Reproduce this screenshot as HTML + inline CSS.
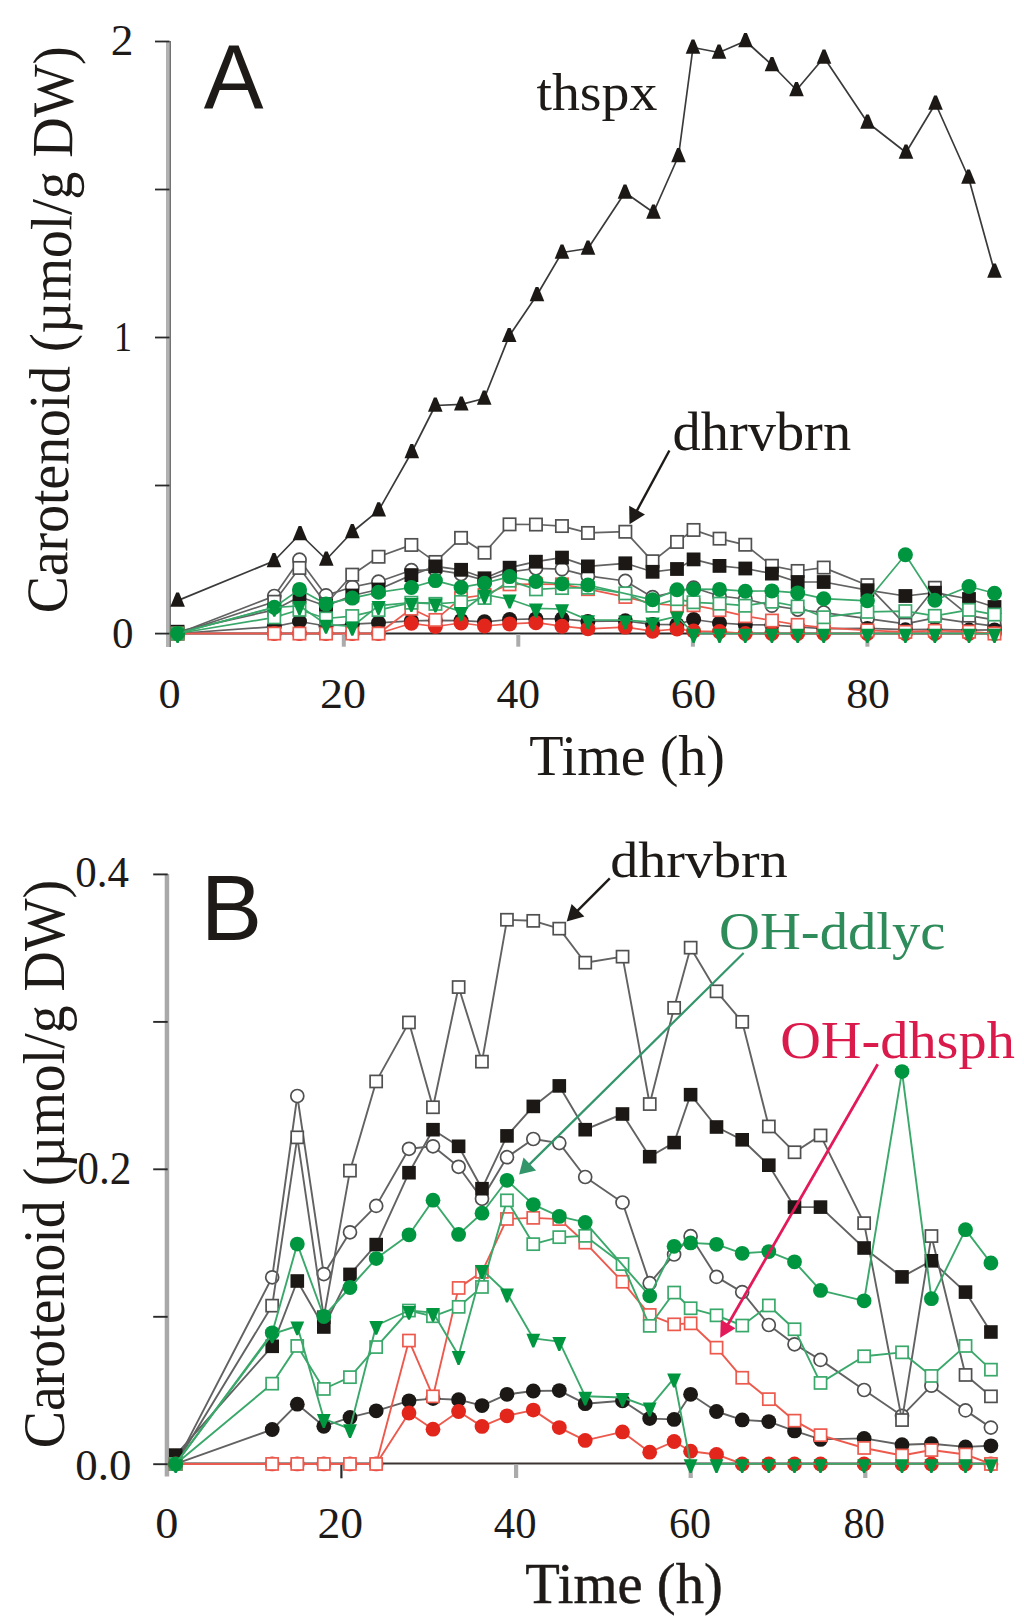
<!DOCTYPE html>
<html><head><meta charset="utf-8"><title>Carotenoid time course</title>
<style>
html,body{margin:0;padding:0;background:#fff;}
body{width:1024px;height:1622px;overflow:hidden;}
svg{display:block;}
</style></head>
<body>
<svg width="1024" height="1622" viewBox="0 0 1024 1622">
<rect width="1024" height="1622" fill="#fff"/>
<line x1="169" y1="633.5" x2="996" y2="633.5" stroke="#2a2a2a" stroke-width="1.8"/>
<rect x="166" y="41" width="4" height="606" fill="#b2b2b2"/>
<rect x="169.6" y="41" width="1.4" height="606" fill="#727272"/>
<line x1="155" y1="41.5" x2="169.5" y2="41.5" stroke="#2a2a2a" stroke-width="1.8"/>
<line x1="155" y1="189.5" x2="169.5" y2="189.5" stroke="#2a2a2a" stroke-width="1.8"/>
<line x1="155" y1="337.5" x2="169.5" y2="337.5" stroke="#2a2a2a" stroke-width="1.8"/>
<line x1="155" y1="485.5" x2="169.5" y2="485.5" stroke="#2a2a2a" stroke-width="1.8"/>
<line x1="155" y1="633.6" x2="169.5" y2="633.6" stroke="#2a2a2a" stroke-width="1.8"/>
<rect x="341.8" y="634" width="4" height="12.7" fill="#ababab"/>
<rect x="516.3" y="634" width="4" height="12.7" fill="#ababab"/>
<rect x="690.9" y="634" width="4" height="12.7" fill="#ababab"/>
<rect x="865.4" y="634" width="4" height="12.7" fill="#ababab"/>
<text transform="translate(110.63,54.80) scale(1.0333,0.9862)" x="0" y="0" style="font-family:'Liberation Serif',serif;font-size:44px;" fill="#1e1a18">2</text>
<text transform="translate(113.92,351.10) scale(0.8188,0.9448)" x="0" y="0" style="font-family:'Liberation Serif',serif;font-size:44px;" fill="#1e1a18">1</text>
<text transform="translate(111.94,647.80) scale(0.9789,0.9862)" x="0" y="0" style="font-family:'Liberation Serif',serif;font-size:44px;" fill="#1e1a18">0</text>
<text transform="translate(158.39,708.20) scale(1.0053,0.9552)" x="0" y="0" style="font-family:'Liberation Serif',serif;font-size:44px;" fill="#1e1a18">0</text>
<text transform="translate(319.91,708.20) scale(1.0463,0.9552)" x="0" y="0" style="font-family:'Liberation Serif',serif;font-size:44px;" fill="#1e1a18">20</text>
<text transform="translate(496.51,708.20) scale(0.9929,0.9552)" x="0" y="0" style="font-family:'Liberation Serif',serif;font-size:44px;" fill="#1e1a18">40</text>
<text transform="translate(670.84,708.20) scale(1.0293,0.9552)" x="0" y="0" style="font-family:'Liberation Serif',serif;font-size:44px;" fill="#1e1a18">60</text>
<text transform="translate(846.21,708.20) scale(0.9951,0.9552)" x="0" y="0" style="font-family:'Liberation Serif',serif;font-size:44px;" fill="#1e1a18">80</text>
<text transform="translate(529.28,774.87) scale(1.0196,1.0300)" x="0" y="0" style="font-family:'Liberation Serif',serif;font-size:55px;" fill="#1e1a18">Time (h)</text>
<text transform="translate(66.50,613.49) rotate(-89.300) scale(0.9943,1.0400)" x="0" y="0" style="font-family:'Liberation Serif',serif;font-size:56px" fill="#1e1a18">Carotenoid (µmol/g DW)</text>
<text transform="translate(203.70,108.40) scale(1.0190,1.0410)" x="0" y="0" style="font-family:'Liberation Sans',sans-serif;font-size:88px;" fill="#1e1a18">A</text>
<text transform="translate(536.40,109.59) scale(1.0151,0.9510)" x="0" y="0" style="font-family:'Liberation Serif',serif;font-size:55px;" fill="#1e1a18">thspx</text>
<text transform="translate(672.55,450.42) scale(1.0256,0.9825)" x="0" y="0" style="font-family:'Liberation Serif',serif;font-size:55px;" fill="#1e1a18">dhrvbrn</text>
<path d="M177.6,633.5 L274.3,596.1 L299.5,559.7 L326.0,595.4 L352.3,587.0 L378.5,581.7 L411.4,570.3 L435.4,569.8 L461.1,573.9 L484.5,580.3 L509.6,572.0 L535.9,568.3 L562.0,569.1 L587.9,575.9 L625.3,581.0 L652.6,597.2 L677.0,591.5 L693.6,587.8 L719.5,596.0 L745.3,599.0 L771.9,605.6 L797.7,609.5 L823.7,612.6 L867.4,618.7 L905.4,623.9 L934.9,617.8 L969.0,622.8 L994.5,626.2" fill="none" stroke="#626262" stroke-width="1.7" stroke-linejoin="round"/>
<circle cx="177.6" cy="633.5" r="6.6" fill="#fff" stroke="#505050" stroke-width="1.7"/>
<circle cx="274.3" cy="596.1" r="6.6" fill="#fff" stroke="#505050" stroke-width="1.7"/>
<circle cx="299.5" cy="559.7" r="6.6" fill="#fff" stroke="#505050" stroke-width="1.7"/>
<circle cx="326.0" cy="595.4" r="6.6" fill="#fff" stroke="#505050" stroke-width="1.7"/>
<circle cx="352.3" cy="587.0" r="6.6" fill="#fff" stroke="#505050" stroke-width="1.7"/>
<circle cx="378.5" cy="581.7" r="6.6" fill="#fff" stroke="#505050" stroke-width="1.7"/>
<circle cx="411.4" cy="570.3" r="6.6" fill="#fff" stroke="#505050" stroke-width="1.7"/>
<circle cx="435.4" cy="569.8" r="6.6" fill="#fff" stroke="#505050" stroke-width="1.7"/>
<circle cx="461.1" cy="573.9" r="6.6" fill="#fff" stroke="#505050" stroke-width="1.7"/>
<circle cx="484.5" cy="580.3" r="6.6" fill="#fff" stroke="#505050" stroke-width="1.7"/>
<circle cx="509.6" cy="572.0" r="6.6" fill="#fff" stroke="#505050" stroke-width="1.7"/>
<circle cx="535.9" cy="568.3" r="6.6" fill="#fff" stroke="#505050" stroke-width="1.7"/>
<circle cx="562.0" cy="569.1" r="6.6" fill="#fff" stroke="#505050" stroke-width="1.7"/>
<circle cx="587.9" cy="575.9" r="6.6" fill="#fff" stroke="#505050" stroke-width="1.7"/>
<circle cx="625.3" cy="581.0" r="6.6" fill="#fff" stroke="#505050" stroke-width="1.7"/>
<circle cx="652.6" cy="597.2" r="6.6" fill="#fff" stroke="#505050" stroke-width="1.7"/>
<circle cx="677.0" cy="591.5" r="6.6" fill="#fff" stroke="#505050" stroke-width="1.7"/>
<circle cx="693.6" cy="587.8" r="6.6" fill="#fff" stroke="#505050" stroke-width="1.7"/>
<circle cx="719.5" cy="596.0" r="6.6" fill="#fff" stroke="#505050" stroke-width="1.7"/>
<circle cx="745.3" cy="599.0" r="6.6" fill="#fff" stroke="#505050" stroke-width="1.7"/>
<circle cx="771.9" cy="605.6" r="6.6" fill="#fff" stroke="#505050" stroke-width="1.7"/>
<circle cx="797.7" cy="609.5" r="6.6" fill="#fff" stroke="#505050" stroke-width="1.7"/>
<circle cx="823.7" cy="612.6" r="6.6" fill="#fff" stroke="#505050" stroke-width="1.7"/>
<circle cx="867.4" cy="618.7" r="6.6" fill="#fff" stroke="#505050" stroke-width="1.7"/>
<circle cx="905.4" cy="623.9" r="6.6" fill="#fff" stroke="#505050" stroke-width="1.7"/>
<circle cx="934.9" cy="617.8" r="6.6" fill="#fff" stroke="#505050" stroke-width="1.7"/>
<circle cx="969.0" cy="622.8" r="6.6" fill="#fff" stroke="#505050" stroke-width="1.7"/>
<circle cx="994.5" cy="626.2" r="6.6" fill="#fff" stroke="#505050" stroke-width="1.7"/>
<path d="M177.6,633.5 L274.3,601.7 L299.5,568.0 L326.0,604.0 L352.3,574.7 L378.5,556.7 L411.4,544.9 L435.4,561.9 L461.1,537.8 L484.5,552.8 L509.6,524.3 L535.9,524.5 L562.0,526.1 L587.9,532.9 L625.3,531.7 L652.6,561.3 L677.0,542.0 L693.6,529.9 L719.5,538.7 L745.3,544.8 L771.9,565.8 L797.7,571.0 L823.7,567.6 L867.4,585.2 L905.4,624.7 L934.9,587.8 L969.0,615.7 L994.5,619.9" fill="none" stroke="#626262" stroke-width="1.7" stroke-linejoin="round"/>
<rect x="171.4" y="627.4" width="12.3" height="12.3" fill="#fff" stroke="#505050" stroke-width="1.7"/>
<rect x="268.1" y="595.6" width="12.3" height="12.3" fill="#fff" stroke="#505050" stroke-width="1.7"/>
<rect x="293.3" y="561.8" width="12.3" height="12.3" fill="#fff" stroke="#505050" stroke-width="1.7"/>
<rect x="319.9" y="597.9" width="12.3" height="12.3" fill="#fff" stroke="#505050" stroke-width="1.7"/>
<rect x="346.1" y="568.5" width="12.3" height="12.3" fill="#fff" stroke="#505050" stroke-width="1.7"/>
<rect x="372.4" y="550.6" width="12.3" height="12.3" fill="#fff" stroke="#505050" stroke-width="1.7"/>
<rect x="405.2" y="538.8" width="12.3" height="12.3" fill="#fff" stroke="#505050" stroke-width="1.7"/>
<rect x="429.3" y="555.8" width="12.3" height="12.3" fill="#fff" stroke="#505050" stroke-width="1.7"/>
<rect x="454.9" y="531.7" width="12.3" height="12.3" fill="#fff" stroke="#505050" stroke-width="1.7"/>
<rect x="478.4" y="546.6" width="12.3" height="12.3" fill="#fff" stroke="#505050" stroke-width="1.7"/>
<rect x="503.4" y="518.2" width="12.3" height="12.3" fill="#fff" stroke="#505050" stroke-width="1.7"/>
<rect x="529.8" y="518.4" width="12.3" height="12.3" fill="#fff" stroke="#505050" stroke-width="1.7"/>
<rect x="555.8" y="519.9" width="12.3" height="12.3" fill="#fff" stroke="#505050" stroke-width="1.7"/>
<rect x="581.8" y="526.8" width="12.3" height="12.3" fill="#fff" stroke="#505050" stroke-width="1.7"/>
<rect x="619.2" y="525.6" width="12.3" height="12.3" fill="#fff" stroke="#505050" stroke-width="1.7"/>
<rect x="646.4" y="555.1" width="12.3" height="12.3" fill="#fff" stroke="#505050" stroke-width="1.7"/>
<rect x="670.9" y="535.8" width="12.3" height="12.3" fill="#fff" stroke="#505050" stroke-width="1.7"/>
<rect x="687.4" y="523.8" width="12.3" height="12.3" fill="#fff" stroke="#505050" stroke-width="1.7"/>
<rect x="713.4" y="532.5" width="12.3" height="12.3" fill="#fff" stroke="#505050" stroke-width="1.7"/>
<rect x="739.1" y="538.6" width="12.3" height="12.3" fill="#fff" stroke="#505050" stroke-width="1.7"/>
<rect x="765.8" y="559.6" width="12.3" height="12.3" fill="#fff" stroke="#505050" stroke-width="1.7"/>
<rect x="791.5" y="564.8" width="12.3" height="12.3" fill="#fff" stroke="#505050" stroke-width="1.7"/>
<rect x="817.6" y="561.4" width="12.3" height="12.3" fill="#fff" stroke="#505050" stroke-width="1.7"/>
<rect x="861.3" y="579.0" width="12.3" height="12.3" fill="#fff" stroke="#505050" stroke-width="1.7"/>
<rect x="899.2" y="618.6" width="12.3" height="12.3" fill="#fff" stroke="#505050" stroke-width="1.7"/>
<rect x="928.7" y="581.6" width="12.3" height="12.3" fill="#fff" stroke="#505050" stroke-width="1.7"/>
<rect x="962.9" y="609.5" width="12.3" height="12.3" fill="#fff" stroke="#505050" stroke-width="1.7"/>
<rect x="988.3" y="613.8" width="12.3" height="12.3" fill="#fff" stroke="#505050" stroke-width="1.7"/>
<path d="M177.6,631.7 L274.3,609.9 L299.5,596.8 L326.0,606.0 L352.3,595.5 L378.5,589.5 L411.4,575.1 L435.4,566.4 L461.1,569.8 L484.5,578.3 L509.6,567.7 L535.9,561.7 L562.0,557.6 L587.9,566.4 L625.3,563.3 L652.6,571.8 L677.0,569.0 L693.6,559.4 L719.5,565.9 L745.3,568.5 L771.9,573.6 L797.7,582.0 L823.7,582.0 L867.4,590.2 L905.4,596.0 L934.9,592.7 L969.0,599.0 L994.5,607.0" fill="none" stroke="#626262" stroke-width="1.7" stroke-linejoin="round"/>
<rect x="170.7" y="624.8" width="13.8" height="13.8" fill="#1c1816"/>
<rect x="267.4" y="603.0" width="13.8" height="13.8" fill="#1c1816"/>
<rect x="292.6" y="589.9" width="13.8" height="13.8" fill="#1c1816"/>
<rect x="319.1" y="599.1" width="13.8" height="13.8" fill="#1c1816"/>
<rect x="345.4" y="588.6" width="13.8" height="13.8" fill="#1c1816"/>
<rect x="371.6" y="582.6" width="13.8" height="13.8" fill="#1c1816"/>
<rect x="404.5" y="568.2" width="13.8" height="13.8" fill="#1c1816"/>
<rect x="428.5" y="559.5" width="13.8" height="13.8" fill="#1c1816"/>
<rect x="454.2" y="562.9" width="13.8" height="13.8" fill="#1c1816"/>
<rect x="477.6" y="571.4" width="13.8" height="13.8" fill="#1c1816"/>
<rect x="502.7" y="560.8" width="13.8" height="13.8" fill="#1c1816"/>
<rect x="529.0" y="554.8" width="13.8" height="13.8" fill="#1c1816"/>
<rect x="555.1" y="550.7" width="13.8" height="13.8" fill="#1c1816"/>
<rect x="581.0" y="559.5" width="13.8" height="13.8" fill="#1c1816"/>
<rect x="618.4" y="556.4" width="13.8" height="13.8" fill="#1c1816"/>
<rect x="645.7" y="564.9" width="13.8" height="13.8" fill="#1c1816"/>
<rect x="670.1" y="562.1" width="13.8" height="13.8" fill="#1c1816"/>
<rect x="686.7" y="552.5" width="13.8" height="13.8" fill="#1c1816"/>
<rect x="712.6" y="559.0" width="13.8" height="13.8" fill="#1c1816"/>
<rect x="738.4" y="561.6" width="13.8" height="13.8" fill="#1c1816"/>
<rect x="765.0" y="566.7" width="13.8" height="13.8" fill="#1c1816"/>
<rect x="790.8" y="575.1" width="13.8" height="13.8" fill="#1c1816"/>
<rect x="816.8" y="575.1" width="13.8" height="13.8" fill="#1c1816"/>
<rect x="860.5" y="583.3" width="13.8" height="13.8" fill="#1c1816"/>
<rect x="898.5" y="589.1" width="13.8" height="13.8" fill="#1c1816"/>
<rect x="928.0" y="585.8" width="13.8" height="13.8" fill="#1c1816"/>
<rect x="962.1" y="592.1" width="13.8" height="13.8" fill="#1c1816"/>
<rect x="987.6" y="600.1" width="13.8" height="13.8" fill="#1c1816"/>
<path d="M177.6,633.5 L274.3,626.6 L299.5,621.5 L326.0,626.0 L352.3,624.2 L378.5,622.8 L411.4,620.8 L435.4,620.4 L461.1,620.6 L484.5,621.8 L509.6,619.5 L535.9,618.9 L562.0,618.8 L587.9,621.4 L625.3,620.8 L652.6,624.4 L677.0,624.6 L693.6,619.5 L719.5,623.0 L745.3,624.7 L771.9,625.0 L797.7,626.9 L823.7,628.6 L867.4,628.4 L905.4,629.7 L934.9,629.4 L969.0,630.1 L994.5,629.9" fill="none" stroke="#626262" stroke-width="1.7" stroke-linejoin="round"/>
<circle cx="177.6" cy="633.5" r="7.5" fill="#1c1816"/>
<circle cx="274.3" cy="626.6" r="7.5" fill="#1c1816"/>
<circle cx="299.5" cy="621.5" r="7.5" fill="#1c1816"/>
<circle cx="326.0" cy="626.0" r="7.5" fill="#1c1816"/>
<circle cx="352.3" cy="624.2" r="7.5" fill="#1c1816"/>
<circle cx="378.5" cy="622.8" r="7.5" fill="#1c1816"/>
<circle cx="411.4" cy="620.8" r="7.5" fill="#1c1816"/>
<circle cx="435.4" cy="620.4" r="7.5" fill="#1c1816"/>
<circle cx="461.1" cy="620.6" r="7.5" fill="#1c1816"/>
<circle cx="484.5" cy="621.8" r="7.5" fill="#1c1816"/>
<circle cx="509.6" cy="619.5" r="7.5" fill="#1c1816"/>
<circle cx="535.9" cy="618.9" r="7.5" fill="#1c1816"/>
<circle cx="562.0" cy="618.8" r="7.5" fill="#1c1816"/>
<circle cx="587.9" cy="621.4" r="7.5" fill="#1c1816"/>
<circle cx="625.3" cy="620.8" r="7.5" fill="#1c1816"/>
<circle cx="652.6" cy="624.4" r="7.5" fill="#1c1816"/>
<circle cx="677.0" cy="624.6" r="7.5" fill="#1c1816"/>
<circle cx="693.6" cy="619.5" r="7.5" fill="#1c1816"/>
<circle cx="719.5" cy="623.0" r="7.5" fill="#1c1816"/>
<circle cx="745.3" cy="624.7" r="7.5" fill="#1c1816"/>
<circle cx="771.9" cy="625.0" r="7.5" fill="#1c1816"/>
<circle cx="797.7" cy="626.9" r="7.5" fill="#1c1816"/>
<circle cx="823.7" cy="628.6" r="7.5" fill="#1c1816"/>
<circle cx="867.4" cy="628.4" r="7.5" fill="#1c1816"/>
<circle cx="905.4" cy="629.7" r="7.5" fill="#1c1816"/>
<circle cx="934.9" cy="629.4" r="7.5" fill="#1c1816"/>
<circle cx="969.0" cy="630.1" r="7.5" fill="#1c1816"/>
<circle cx="994.5" cy="629.9" r="7.5" fill="#1c1816"/>
<path d="M177.6,633.5 L274.3,633.5 L299.5,633.5 L326.0,633.5 L352.3,633.5 L378.5,633.5 L411.4,623.3 L435.4,626.5 L461.1,623.0 L484.5,626.0 L509.6,623.9 L535.9,622.7 L562.0,626.2 L587.9,628.8 L625.3,627.1 L652.6,631.2 L677.0,629.0 L693.6,631.0 L719.5,631.6 L745.3,633.5 L771.9,633.5 L797.7,633.5 L823.7,633.5 L867.4,633.5 L905.4,633.5 L934.9,633.5 L969.0,633.5 L994.5,633.5" fill="none" stroke="#ec5a4e" stroke-width="1.7" stroke-linejoin="round"/>
<circle cx="177.6" cy="633.5" r="7.5" fill="#e2261c"/>
<circle cx="274.3" cy="633.5" r="7.5" fill="#e2261c"/>
<circle cx="299.5" cy="633.5" r="7.5" fill="#e2261c"/>
<circle cx="326.0" cy="633.5" r="7.5" fill="#e2261c"/>
<circle cx="352.3" cy="633.5" r="7.5" fill="#e2261c"/>
<circle cx="378.5" cy="633.5" r="7.5" fill="#e2261c"/>
<circle cx="411.4" cy="623.3" r="7.5" fill="#e2261c"/>
<circle cx="435.4" cy="626.5" r="7.5" fill="#e2261c"/>
<circle cx="461.1" cy="623.0" r="7.5" fill="#e2261c"/>
<circle cx="484.5" cy="626.0" r="7.5" fill="#e2261c"/>
<circle cx="509.6" cy="623.9" r="7.5" fill="#e2261c"/>
<circle cx="535.9" cy="622.7" r="7.5" fill="#e2261c"/>
<circle cx="562.0" cy="626.2" r="7.5" fill="#e2261c"/>
<circle cx="587.9" cy="628.8" r="7.5" fill="#e2261c"/>
<circle cx="625.3" cy="627.1" r="7.5" fill="#e2261c"/>
<circle cx="652.6" cy="631.2" r="7.5" fill="#e2261c"/>
<circle cx="677.0" cy="629.0" r="7.5" fill="#e2261c"/>
<circle cx="693.6" cy="631.0" r="7.5" fill="#e2261c"/>
<circle cx="719.5" cy="631.6" r="7.5" fill="#e2261c"/>
<circle cx="745.3" cy="633.5" r="7.5" fill="#e2261c"/>
<circle cx="771.9" cy="633.5" r="7.5" fill="#e2261c"/>
<circle cx="797.7" cy="633.5" r="7.5" fill="#e2261c"/>
<circle cx="823.7" cy="633.5" r="7.5" fill="#e2261c"/>
<circle cx="867.4" cy="633.5" r="7.5" fill="#e2261c"/>
<circle cx="905.4" cy="633.5" r="7.5" fill="#e2261c"/>
<circle cx="934.9" cy="633.5" r="7.5" fill="#e2261c"/>
<circle cx="969.0" cy="633.5" r="7.5" fill="#e2261c"/>
<circle cx="994.5" cy="633.5" r="7.5" fill="#e2261c"/>
<path d="M177.6,633.5 L274.3,633.5 L299.5,633.5 L326.0,633.5 L352.3,633.5 L378.5,633.5 L411.4,608.8 L435.4,619.9 L461.1,598.2 L484.5,595.0 L509.6,584.3 L535.9,584.1 L562.0,584.4 L587.9,589.1 L625.3,596.9 L652.6,603.6 L677.0,605.5 L693.6,605.3 L719.5,610.2 L745.3,616.2 L771.9,620.5 L797.7,624.8 L823.7,627.7 L867.4,630.3 L905.4,631.8 L934.9,630.7 L969.0,631.6 L994.5,633.5" fill="none" stroke="#ec5a4e" stroke-width="1.7" stroke-linejoin="round"/>
<rect x="171.4" y="627.4" width="12.3" height="12.3" fill="#fff" stroke="#ec5a4e" stroke-width="1.7"/>
<rect x="268.1" y="627.4" width="12.3" height="12.3" fill="#fff" stroke="#ec5a4e" stroke-width="1.7"/>
<rect x="293.3" y="627.4" width="12.3" height="12.3" fill="#fff" stroke="#ec5a4e" stroke-width="1.7"/>
<rect x="319.9" y="627.4" width="12.3" height="12.3" fill="#fff" stroke="#ec5a4e" stroke-width="1.7"/>
<rect x="346.1" y="627.4" width="12.3" height="12.3" fill="#fff" stroke="#ec5a4e" stroke-width="1.7"/>
<rect x="372.4" y="627.4" width="12.3" height="12.3" fill="#fff" stroke="#ec5a4e" stroke-width="1.7"/>
<rect x="405.2" y="602.6" width="12.3" height="12.3" fill="#fff" stroke="#ec5a4e" stroke-width="1.7"/>
<rect x="429.3" y="613.8" width="12.3" height="12.3" fill="#fff" stroke="#ec5a4e" stroke-width="1.7"/>
<rect x="454.9" y="592.0" width="12.3" height="12.3" fill="#fff" stroke="#ec5a4e" stroke-width="1.7"/>
<rect x="478.4" y="588.8" width="12.3" height="12.3" fill="#fff" stroke="#ec5a4e" stroke-width="1.7"/>
<rect x="503.4" y="578.2" width="12.3" height="12.3" fill="#fff" stroke="#ec5a4e" stroke-width="1.7"/>
<rect x="529.8" y="578.0" width="12.3" height="12.3" fill="#fff" stroke="#ec5a4e" stroke-width="1.7"/>
<rect x="555.8" y="578.2" width="12.3" height="12.3" fill="#fff" stroke="#ec5a4e" stroke-width="1.7"/>
<rect x="581.8" y="583.0" width="12.3" height="12.3" fill="#fff" stroke="#ec5a4e" stroke-width="1.7"/>
<rect x="619.2" y="590.8" width="12.3" height="12.3" fill="#fff" stroke="#ec5a4e" stroke-width="1.7"/>
<rect x="646.4" y="597.5" width="12.3" height="12.3" fill="#fff" stroke="#ec5a4e" stroke-width="1.7"/>
<rect x="670.9" y="599.3" width="12.3" height="12.3" fill="#fff" stroke="#ec5a4e" stroke-width="1.7"/>
<rect x="687.4" y="599.1" width="12.3" height="12.3" fill="#fff" stroke="#ec5a4e" stroke-width="1.7"/>
<rect x="713.4" y="604.0" width="12.3" height="12.3" fill="#fff" stroke="#ec5a4e" stroke-width="1.7"/>
<rect x="739.1" y="610.1" width="12.3" height="12.3" fill="#fff" stroke="#ec5a4e" stroke-width="1.7"/>
<rect x="765.8" y="614.4" width="12.3" height="12.3" fill="#fff" stroke="#ec5a4e" stroke-width="1.7"/>
<rect x="791.5" y="618.7" width="12.3" height="12.3" fill="#fff" stroke="#ec5a4e" stroke-width="1.7"/>
<rect x="817.6" y="621.6" width="12.3" height="12.3" fill="#fff" stroke="#ec5a4e" stroke-width="1.7"/>
<rect x="861.3" y="624.2" width="12.3" height="12.3" fill="#fff" stroke="#ec5a4e" stroke-width="1.7"/>
<rect x="899.2" y="625.7" width="12.3" height="12.3" fill="#fff" stroke="#ec5a4e" stroke-width="1.7"/>
<rect x="928.7" y="624.6" width="12.3" height="12.3" fill="#fff" stroke="#ec5a4e" stroke-width="1.7"/>
<rect x="962.9" y="625.5" width="12.3" height="12.3" fill="#fff" stroke="#ec5a4e" stroke-width="1.7"/>
<rect x="988.3" y="627.4" width="12.3" height="12.3" fill="#fff" stroke="#ec5a4e" stroke-width="1.7"/>
<path d="M177.6,633.5 L274.3,617.4 L299.5,609.8 L326.0,618.5 L352.3,616.1 L378.5,610.1 L411.4,602.7 L435.4,603.9 L461.1,602.0 L484.5,598.0 L509.6,580.6 L535.9,589.4 L562.0,588.0 L587.9,587.7 L625.3,593.4 L652.6,605.8 L677.0,599.1 L693.6,602.3 L719.5,603.7 L745.3,605.7 L771.9,601.7 L797.7,606.5 L823.7,617.2 L867.4,611.9 L905.4,611.1 L934.9,615.9 L969.0,609.8 L994.5,614.6" fill="none" stroke="#3aa86a" stroke-width="1.7" stroke-linejoin="round"/>
<rect x="171.4" y="627.4" width="12.3" height="12.3" fill="#fff" stroke="#3aa86a" stroke-width="1.7"/>
<rect x="268.1" y="611.2" width="12.3" height="12.3" fill="#fff" stroke="#3aa86a" stroke-width="1.7"/>
<rect x="293.3" y="603.7" width="12.3" height="12.3" fill="#fff" stroke="#3aa86a" stroke-width="1.7"/>
<rect x="319.9" y="612.3" width="12.3" height="12.3" fill="#fff" stroke="#3aa86a" stroke-width="1.7"/>
<rect x="346.1" y="609.9" width="12.3" height="12.3" fill="#fff" stroke="#3aa86a" stroke-width="1.7"/>
<rect x="372.4" y="603.9" width="12.3" height="12.3" fill="#fff" stroke="#3aa86a" stroke-width="1.7"/>
<rect x="405.2" y="596.6" width="12.3" height="12.3" fill="#fff" stroke="#3aa86a" stroke-width="1.7"/>
<rect x="429.3" y="597.7" width="12.3" height="12.3" fill="#fff" stroke="#3aa86a" stroke-width="1.7"/>
<rect x="454.9" y="595.8" width="12.3" height="12.3" fill="#fff" stroke="#3aa86a" stroke-width="1.7"/>
<rect x="478.4" y="591.8" width="12.3" height="12.3" fill="#fff" stroke="#3aa86a" stroke-width="1.7"/>
<rect x="503.4" y="574.5" width="12.3" height="12.3" fill="#fff" stroke="#3aa86a" stroke-width="1.7"/>
<rect x="529.8" y="583.2" width="12.3" height="12.3" fill="#fff" stroke="#3aa86a" stroke-width="1.7"/>
<rect x="555.8" y="581.9" width="12.3" height="12.3" fill="#fff" stroke="#3aa86a" stroke-width="1.7"/>
<rect x="581.8" y="581.6" width="12.3" height="12.3" fill="#fff" stroke="#3aa86a" stroke-width="1.7"/>
<rect x="619.2" y="587.2" width="12.3" height="12.3" fill="#fff" stroke="#3aa86a" stroke-width="1.7"/>
<rect x="646.4" y="599.6" width="12.3" height="12.3" fill="#fff" stroke="#3aa86a" stroke-width="1.7"/>
<rect x="670.9" y="593.0" width="12.3" height="12.3" fill="#fff" stroke="#3aa86a" stroke-width="1.7"/>
<rect x="687.4" y="596.1" width="12.3" height="12.3" fill="#fff" stroke="#3aa86a" stroke-width="1.7"/>
<rect x="713.4" y="597.5" width="12.3" height="12.3" fill="#fff" stroke="#3aa86a" stroke-width="1.7"/>
<rect x="739.1" y="599.6" width="12.3" height="12.3" fill="#fff" stroke="#3aa86a" stroke-width="1.7"/>
<rect x="765.8" y="595.6" width="12.3" height="12.3" fill="#fff" stroke="#3aa86a" stroke-width="1.7"/>
<rect x="791.5" y="600.3" width="12.3" height="12.3" fill="#fff" stroke="#3aa86a" stroke-width="1.7"/>
<rect x="817.6" y="611.1" width="12.3" height="12.3" fill="#fff" stroke="#3aa86a" stroke-width="1.7"/>
<rect x="861.3" y="605.7" width="12.3" height="12.3" fill="#fff" stroke="#3aa86a" stroke-width="1.7"/>
<rect x="899.2" y="605.0" width="12.3" height="12.3" fill="#fff" stroke="#3aa86a" stroke-width="1.7"/>
<rect x="928.7" y="609.7" width="12.3" height="12.3" fill="#fff" stroke="#3aa86a" stroke-width="1.7"/>
<rect x="962.9" y="603.7" width="12.3" height="12.3" fill="#fff" stroke="#3aa86a" stroke-width="1.7"/>
<rect x="988.3" y="608.4" width="12.3" height="12.3" fill="#fff" stroke="#3aa86a" stroke-width="1.7"/>
<path d="M177.6,633.5 L274.3,607.2 L299.5,589.4 L326.0,603.9 L352.3,598.1 L378.5,592.3 L411.4,587.5 L435.4,580.6 L461.1,587.4 L484.5,583.2 L509.6,576.6 L535.9,581.5 L562.0,583.8 L587.9,585.0 L652.6,599.8 L677.0,589.8 L693.6,589.2 L719.5,589.4 L745.3,591.2 L771.9,590.9 L797.7,592.9 L823.7,598.7 L867.4,600.8 L905.4,554.8 L934.9,600.3 L969.0,586.5 L994.5,593.2" fill="none" stroke="#3aa86a" stroke-width="1.7" stroke-linejoin="round"/>
<circle cx="177.6" cy="633.5" r="7.5" fill="#00953f"/>
<circle cx="274.3" cy="607.2" r="7.5" fill="#00953f"/>
<circle cx="299.5" cy="589.4" r="7.5" fill="#00953f"/>
<circle cx="326.0" cy="603.9" r="7.5" fill="#00953f"/>
<circle cx="352.3" cy="598.1" r="7.5" fill="#00953f"/>
<circle cx="378.5" cy="592.3" r="7.5" fill="#00953f"/>
<circle cx="411.4" cy="587.5" r="7.5" fill="#00953f"/>
<circle cx="435.4" cy="580.6" r="7.5" fill="#00953f"/>
<circle cx="461.1" cy="587.4" r="7.5" fill="#00953f"/>
<circle cx="484.5" cy="583.2" r="7.5" fill="#00953f"/>
<circle cx="509.6" cy="576.6" r="7.5" fill="#00953f"/>
<circle cx="535.9" cy="581.5" r="7.5" fill="#00953f"/>
<circle cx="562.0" cy="583.8" r="7.5" fill="#00953f"/>
<circle cx="587.9" cy="585.0" r="7.5" fill="#00953f"/>
<circle cx="652.6" cy="599.8" r="7.5" fill="#00953f"/>
<circle cx="677.0" cy="589.8" r="7.5" fill="#00953f"/>
<circle cx="693.6" cy="589.2" r="7.5" fill="#00953f"/>
<circle cx="719.5" cy="589.4" r="7.5" fill="#00953f"/>
<circle cx="745.3" cy="591.2" r="7.5" fill="#00953f"/>
<circle cx="771.9" cy="590.9" r="7.5" fill="#00953f"/>
<circle cx="797.7" cy="592.9" r="7.5" fill="#00953f"/>
<circle cx="823.7" cy="598.7" r="7.5" fill="#00953f"/>
<circle cx="867.4" cy="600.8" r="7.5" fill="#00953f"/>
<circle cx="905.4" cy="554.8" r="7.5" fill="#00953f"/>
<circle cx="934.9" cy="600.3" r="7.5" fill="#00953f"/>
<circle cx="969.0" cy="586.5" r="7.5" fill="#00953f"/>
<circle cx="994.5" cy="593.2" r="7.5" fill="#00953f"/>
<path d="M177.6,633.5 L274.3,607.5 L299.5,605.8 L326.0,624.4 L352.3,626.5 L378.5,605.7 L411.4,602.7 L435.4,603.1 L461.1,611.8 L484.5,594.5 L509.6,599.3 L535.9,608.3 L562.0,609.0 L587.9,619.9 L625.3,620.2 L652.6,622.1 L677.0,616.3 L693.6,633.5 L719.5,633.5 L745.3,633.5 L771.9,633.5 L797.7,633.5 L823.7,633.5 L867.4,633.5 L905.4,633.5 L934.9,633.5 L969.0,633.5 L994.5,633.5" fill="none" stroke="#3aa86a" stroke-width="1.7" stroke-linejoin="round"/>
<path d="M170.6,628.8 L184.6,628.8 L178.6,642.9 L176.6,642.9 Z" fill="#00953f"/>
<path d="M267.3,602.8 L281.3,602.8 L275.3,616.8 L273.3,616.8 Z" fill="#00953f"/>
<path d="M292.4,601.1 L306.5,601.1 L300.5,615.2 L298.5,615.2 Z" fill="#00953f"/>
<path d="M319.0,619.8 L333.0,619.8 L327.0,633.8 L325.0,633.8 Z" fill="#00953f"/>
<path d="M345.2,621.8 L359.3,621.8 L353.3,635.8 L351.3,635.8 Z" fill="#00953f"/>
<path d="M371.5,601.0 L385.6,601.0 L379.5,615.1 L377.5,615.1 Z" fill="#00953f"/>
<path d="M404.3,598.0 L418.4,598.0 L412.4,612.1 L410.4,612.1 Z" fill="#00953f"/>
<path d="M428.4,598.4 L442.5,598.4 L436.4,612.5 L434.4,612.5 Z" fill="#00953f"/>
<path d="M454.0,607.1 L468.1,607.1 L462.1,621.2 L460.1,621.2 Z" fill="#00953f"/>
<path d="M477.5,589.8 L491.6,589.8 L485.5,603.9 L483.5,603.9 Z" fill="#00953f"/>
<path d="M502.5,594.6 L516.6,594.6 L510.6,608.6 L508.6,608.6 Z" fill="#00953f"/>
<path d="M528.9,603.6 L543.0,603.6 L536.9,617.7 L534.9,617.7 Z" fill="#00953f"/>
<path d="M555.0,604.3 L569.0,604.3 L563.0,618.3 L561.0,618.3 Z" fill="#00953f"/>
<path d="M580.9,615.3 L595.0,615.3 L588.9,629.3 L586.9,629.3 Z" fill="#00953f"/>
<path d="M618.3,615.5 L632.4,615.5 L626.3,629.6 L624.3,629.6 Z" fill="#00953f"/>
<path d="M645.5,617.4 L659.6,617.4 L653.6,631.5 L651.6,631.5 Z" fill="#00953f"/>
<path d="M670.0,611.6 L684.1,611.6 L678.0,625.7 L676.0,625.7 Z" fill="#00953f"/>
<path d="M686.5,628.8 L700.6,628.8 L694.6,642.9 L692.6,642.9 Z" fill="#00953f"/>
<path d="M712.5,628.8 L726.6,628.8 L720.5,642.9 L718.5,642.9 Z" fill="#00953f"/>
<path d="M738.2,628.8 L752.3,628.8 L746.3,642.9 L744.3,642.9 Z" fill="#00953f"/>
<path d="M764.9,628.8 L779.0,628.8 L772.9,642.9 L770.9,642.9 Z" fill="#00953f"/>
<path d="M790.6,628.8 L804.7,628.8 L798.7,642.9 L796.7,642.9 Z" fill="#00953f"/>
<path d="M816.7,628.8 L830.8,628.8 L824.7,642.9 L822.7,642.9 Z" fill="#00953f"/>
<path d="M860.4,628.8 L874.5,628.8 L868.4,642.9 L866.4,642.9 Z" fill="#00953f"/>
<path d="M898.4,628.8 L912.4,628.8 L906.4,642.9 L904.4,642.9 Z" fill="#00953f"/>
<path d="M927.8,628.8 L941.9,628.8 L935.9,642.9 L933.9,642.9 Z" fill="#00953f"/>
<path d="M962.0,628.8 L976.1,628.8 L970.0,642.9 L968.0,642.9 Z" fill="#00953f"/>
<path d="M987.4,628.8 L1001.5,628.8 L995.5,642.9 L993.5,642.9 Z" fill="#00953f"/>
<path d="M177.6,600.6 L274.0,561.0 L300.0,534.0 L326.3,559.5 L352.3,532.0 L378.7,510.3 L411.8,452.0 L435.3,405.5 L461.3,404.4 L484.2,398.5 L509.2,335.9 L537.0,295.0 L562.0,252.5 L588.0,248.5 L625.0,192.5 L653.5,212.5 L678.5,156.0 L693.0,47.5 L719.0,52.5 L745.5,41.0 L772.0,65.0 L796.5,90.0 L824.0,57.5 L867.5,122.5 L906.0,152.5 L935.5,103.5 L968.5,177.5 L994.5,271.5" fill="none" stroke="#3a3a3a" stroke-width="1.7" stroke-linejoin="round"/>
<path d="M170.3,606.8 L184.9,606.8 L179.0,592.6 L176.2,592.6 Z" fill="#1c1816"/>
<path d="M266.7,567.2 L281.3,567.2 L275.4,553.0 L272.6,553.0 Z" fill="#1c1816"/>
<path d="M292.7,540.2 L307.3,540.2 L301.4,526.0 L298.6,526.0 Z" fill="#1c1816"/>
<path d="M319.0,565.7 L333.6,565.7 L327.7,551.5 L324.9,551.5 Z" fill="#1c1816"/>
<path d="M345.0,538.2 L359.6,538.2 L353.7,524.0 L350.9,524.0 Z" fill="#1c1816"/>
<path d="M371.4,516.5 L386.0,516.5 L380.1,502.3 L377.3,502.3 Z" fill="#1c1816"/>
<path d="M404.5,458.2 L419.1,458.2 L413.2,444.0 L410.4,444.0 Z" fill="#1c1816"/>
<path d="M428.0,411.7 L442.6,411.7 L436.7,397.5 L433.9,397.5 Z" fill="#1c1816"/>
<path d="M454.0,410.6 L468.6,410.6 L462.7,396.4 L459.9,396.4 Z" fill="#1c1816"/>
<path d="M476.9,404.7 L491.5,404.7 L485.6,390.5 L482.8,390.5 Z" fill="#1c1816"/>
<path d="M501.9,342.1 L516.5,342.1 L510.6,327.9 L507.8,327.9 Z" fill="#1c1816"/>
<path d="M529.7,301.2 L544.3,301.2 L538.4,287.0 L535.6,287.0 Z" fill="#1c1816"/>
<path d="M554.7,258.7 L569.3,258.7 L563.4,244.5 L560.6,244.5 Z" fill="#1c1816"/>
<path d="M580.7,254.7 L595.3,254.7 L589.4,240.5 L586.6,240.5 Z" fill="#1c1816"/>
<path d="M617.7,198.7 L632.3,198.7 L626.4,184.5 L623.6,184.5 Z" fill="#1c1816"/>
<path d="M646.2,218.7 L660.8,218.7 L654.9,204.5 L652.1,204.5 Z" fill="#1c1816"/>
<path d="M671.2,162.2 L685.8,162.2 L679.9,148.0 L677.1,148.0 Z" fill="#1c1816"/>
<path d="M685.7,53.7 L700.3,53.7 L694.4,39.5 L691.6,39.5 Z" fill="#1c1816"/>
<path d="M711.7,58.7 L726.3,58.7 L720.4,44.5 L717.6,44.5 Z" fill="#1c1816"/>
<path d="M738.2,47.2 L752.8,47.2 L746.9,33.0 L744.1,33.0 Z" fill="#1c1816"/>
<path d="M764.7,71.2 L779.3,71.2 L773.4,57.0 L770.6,57.0 Z" fill="#1c1816"/>
<path d="M789.2,96.2 L803.8,96.2 L797.9,82.0 L795.1,82.0 Z" fill="#1c1816"/>
<path d="M816.7,63.7 L831.3,63.7 L825.4,49.5 L822.6,49.5 Z" fill="#1c1816"/>
<path d="M860.2,128.7 L874.8,128.7 L868.9,114.5 L866.1,114.5 Z" fill="#1c1816"/>
<path d="M898.7,158.7 L913.3,158.7 L907.4,144.5 L904.6,144.5 Z" fill="#1c1816"/>
<path d="M928.2,109.7 L942.8,109.7 L936.9,95.5 L934.1,95.5 Z" fill="#1c1816"/>
<path d="M961.2,183.7 L975.8,183.7 L969.9,169.5 L967.1,169.5 Z" fill="#1c1816"/>
<path d="M987.2,277.7 L1001.8,277.7 L995.9,263.5 L993.1,263.5 Z" fill="#1c1816"/>
<line x1="669.4" y1="450.5" x2="636.2" y2="511.9" stroke="#1e1a18" stroke-width="2.4"/><path d="M629.5,524.2 L629.2,505.8 L645.0,514.4 Z" fill="#1e1a18"/>
<line x1="166" y1="1463.6" x2="992" y2="1463.6" stroke="#3a3532" stroke-width="2"/>
<rect x="164.7" y="874" width="4.5" height="602.5" fill="#a9a9a9"/>
<line x1="153.2" y1="874.4" x2="167.7" y2="874.4" stroke="#2a2a2a" stroke-width="1.9"/>
<line x1="153.2" y1="1021.9" x2="167.7" y2="1021.9" stroke="#2a2a2a" stroke-width="1.9"/>
<line x1="153.2" y1="1169.3" x2="167.7" y2="1169.3" stroke="#2a2a2a" stroke-width="1.9"/>
<line x1="153.2" y1="1316.8" x2="167.7" y2="1316.8" stroke="#2a2a2a" stroke-width="1.9"/>
<line x1="153.2" y1="1464.2" x2="167.7" y2="1464.2" stroke="#2a2a2a" stroke-width="1.9"/>
<rect x="340.3" y="1464.5" width="2.2" height="13.8" fill="#2a2a2a"/>
<rect x="514.0" y="1464.5" width="4.2" height="13.5" fill="#ababab"/>
<rect x="688.6" y="1464.5" width="4.2" height="13.5" fill="#ababab"/>
<rect x="863.2" y="1464.5" width="4.2" height="13.5" fill="#ababab"/>
<text transform="translate(75.35,887.00) scale(0.9774,0.9828)" x="0" y="0" style="font-family:'Liberation Serif',serif;font-size:44px;" fill="#1e1a18">0.4</text>
<text transform="translate(77.23,1183.90) scale(0.9863,1.0345)" x="0" y="0" style="font-family:'Liberation Serif',serif;font-size:44px;" fill="#1e1a18">0.2</text>
<text transform="translate(75.26,1480.00) scale(1.0192,1.0207)" x="0" y="0" style="font-family:'Liberation Serif',serif;font-size:44px;" fill="#1e1a18">0.0</text>
<text transform="translate(155.29,1537.90) scale(1.0526,0.9897)" x="0" y="0" style="font-family:'Liberation Serif',serif;font-size:44px;" fill="#1e1a18">0</text>
<text transform="translate(317.52,1537.90) scale(1.0390,0.9897)" x="0" y="0" style="font-family:'Liberation Serif',serif;font-size:44px;" fill="#1e1a18">20</text>
<text transform="translate(493.83,1537.90) scale(0.9714,0.9897)" x="0" y="0" style="font-family:'Liberation Serif',serif;font-size:44px;" fill="#1e1a18">40</text>
<text transform="translate(668.88,1537.90) scale(0.9585,0.9897)" x="0" y="0" style="font-family:'Liberation Serif',serif;font-size:44px;" fill="#1e1a18">60</text>
<text transform="translate(843.52,1537.90) scale(0.9415,0.9897)" x="0" y="0" style="font-family:'Liberation Serif',serif;font-size:44px;" fill="#1e1a18">80</text>
<text transform="translate(525.30,1603.12) scale(1.0289,1.0314)" x="0" y="0" style="font-family:'Liberation Serif',serif;font-size:55px;stroke:#1e1a18;stroke-width:0.45px" fill="#1e1a18">Time (h)</text>
<text transform="translate(64.00,1448.29) rotate(-90.000) scale(0.9970,1.0400)" x="0" y="0" style="font-family:'Liberation Serif',serif;font-size:56px" fill="#1e1a18">Carotenoid (µmol/g DW)</text>
<text transform="translate(200.77,939.70) scale(1.0468,1.0450)" x="0" y="0" style="font-family:'Liberation Sans',sans-serif;font-size:88px;" fill="#1e1a18">B</text>
<text transform="translate(610.36,877.19) scale(1.0186,0.9125)" x="0" y="0" style="font-family:'Liberation Serif',serif;font-size:55px;" fill="#1e1a18">dhrvbrn</text>
<text transform="translate(719.04,949.32) scale(1.0296,0.9647)" x="0" y="0" style="font-family:'Liberation Serif',serif;font-size:55px;" fill="#2e8b5a">OH-ddlyc</text>
<text transform="translate(780.15,1057.66) scale(1.0242,0.9529)" x="0" y="0" style="font-family:'Liberation Serif',serif;font-size:55px;" fill="#da1a4a">OH-dhsph</text>
<path d="M175.7,1463.9 L272.2,1277.3 L297.3,1096.0 L323.8,1274.1 L350.0,1232.3 L376.2,1205.9 L409.0,1148.8 L433.0,1146.3 L458.6,1166.8 L482.0,1198.8 L507.0,1157.2 L533.3,1139.0 L559.3,1143.1 L585.2,1177.0 L622.5,1202.5 L649.7,1283.2 L674.1,1254.5 L690.6,1236.2 L716.5,1276.9 L742.2,1292.1 L768.8,1325.0 L794.5,1344.3 L820.5,1359.9 L864.1,1390.0 L902.0,1415.8 L931.4,1385.7 L965.5,1410.4 L990.9,1427.6" fill="none" stroke="#626262" stroke-width="1.9" stroke-linejoin="round"/>
<circle cx="175.7" cy="1463.9" r="6.5" fill="#fff" stroke="#505050" stroke-width="1.7"/>
<circle cx="272.2" cy="1277.3" r="6.5" fill="#fff" stroke="#505050" stroke-width="1.7"/>
<circle cx="297.3" cy="1096.0" r="6.5" fill="#fff" stroke="#505050" stroke-width="1.7"/>
<circle cx="323.8" cy="1274.1" r="6.5" fill="#fff" stroke="#505050" stroke-width="1.7"/>
<circle cx="350.0" cy="1232.3" r="6.5" fill="#fff" stroke="#505050" stroke-width="1.7"/>
<circle cx="376.2" cy="1205.9" r="6.5" fill="#fff" stroke="#505050" stroke-width="1.7"/>
<circle cx="409.0" cy="1148.8" r="6.5" fill="#fff" stroke="#505050" stroke-width="1.7"/>
<circle cx="433.0" cy="1146.3" r="6.5" fill="#fff" stroke="#505050" stroke-width="1.7"/>
<circle cx="458.6" cy="1166.8" r="6.5" fill="#fff" stroke="#505050" stroke-width="1.7"/>
<circle cx="482.0" cy="1198.8" r="6.5" fill="#fff" stroke="#505050" stroke-width="1.7"/>
<circle cx="507.0" cy="1157.2" r="6.5" fill="#fff" stroke="#505050" stroke-width="1.7"/>
<circle cx="533.3" cy="1139.0" r="6.5" fill="#fff" stroke="#505050" stroke-width="1.7"/>
<circle cx="559.3" cy="1143.1" r="6.5" fill="#fff" stroke="#505050" stroke-width="1.7"/>
<circle cx="585.2" cy="1177.0" r="6.5" fill="#fff" stroke="#505050" stroke-width="1.7"/>
<circle cx="622.5" cy="1202.5" r="6.5" fill="#fff" stroke="#505050" stroke-width="1.7"/>
<circle cx="649.7" cy="1283.2" r="6.5" fill="#fff" stroke="#505050" stroke-width="1.7"/>
<circle cx="674.1" cy="1254.5" r="6.5" fill="#fff" stroke="#505050" stroke-width="1.7"/>
<circle cx="690.6" cy="1236.2" r="6.5" fill="#fff" stroke="#505050" stroke-width="1.7"/>
<circle cx="716.5" cy="1276.9" r="6.5" fill="#fff" stroke="#505050" stroke-width="1.7"/>
<circle cx="742.2" cy="1292.1" r="6.5" fill="#fff" stroke="#505050" stroke-width="1.7"/>
<circle cx="768.8" cy="1325.0" r="6.5" fill="#fff" stroke="#505050" stroke-width="1.7"/>
<circle cx="794.5" cy="1344.3" r="6.5" fill="#fff" stroke="#505050" stroke-width="1.7"/>
<circle cx="820.5" cy="1359.9" r="6.5" fill="#fff" stroke="#505050" stroke-width="1.7"/>
<circle cx="864.1" cy="1390.0" r="6.5" fill="#fff" stroke="#505050" stroke-width="1.7"/>
<circle cx="902.0" cy="1415.8" r="6.5" fill="#fff" stroke="#505050" stroke-width="1.7"/>
<circle cx="931.4" cy="1385.7" r="6.5" fill="#fff" stroke="#505050" stroke-width="1.7"/>
<circle cx="965.5" cy="1410.4" r="6.5" fill="#fff" stroke="#505050" stroke-width="1.7"/>
<circle cx="990.9" cy="1427.6" r="6.5" fill="#fff" stroke="#505050" stroke-width="1.7"/>
<path d="M175.7,1463.9 L272.2,1305.6 L297.3,1137.3 L323.8,1317.1 L350.0,1170.7 L376.2,1081.4 L409.0,1022.4 L433.0,1107.2 L458.6,987.0 L482.0,1061.7 L507.0,919.8 L533.3,920.8 L559.3,928.6 L585.2,962.7 L622.5,956.6 L649.7,1104.0 L674.1,1007.8 L690.6,947.7 L716.5,991.3 L742.2,1021.8 L768.8,1126.4 L794.5,1152.2 L820.5,1135.4 L864.1,1223.2 L902.0,1420.1 L931.4,1236.0 L965.5,1375.0 L990.9,1396.3" fill="none" stroke="#626262" stroke-width="1.9" stroke-linejoin="round"/>
<rect x="169.6" y="1457.9" width="12.1" height="12.1" fill="#fff" stroke="#505050" stroke-width="1.7"/>
<rect x="266.1" y="1299.6" width="12.1" height="12.1" fill="#fff" stroke="#505050" stroke-width="1.7"/>
<rect x="291.2" y="1131.3" width="12.1" height="12.1" fill="#fff" stroke="#505050" stroke-width="1.7"/>
<rect x="317.8" y="1311.1" width="12.1" height="12.1" fill="#fff" stroke="#505050" stroke-width="1.7"/>
<rect x="343.9" y="1164.6" width="12.1" height="12.1" fill="#fff" stroke="#505050" stroke-width="1.7"/>
<rect x="370.1" y="1075.4" width="12.1" height="12.1" fill="#fff" stroke="#505050" stroke-width="1.7"/>
<rect x="402.9" y="1016.4" width="12.1" height="12.1" fill="#fff" stroke="#505050" stroke-width="1.7"/>
<rect x="426.9" y="1101.2" width="12.1" height="12.1" fill="#fff" stroke="#505050" stroke-width="1.7"/>
<rect x="452.6" y="981.0" width="12.1" height="12.1" fill="#fff" stroke="#505050" stroke-width="1.7"/>
<rect x="475.9" y="1055.6" width="12.1" height="12.1" fill="#fff" stroke="#505050" stroke-width="1.7"/>
<rect x="500.9" y="913.7" width="12.1" height="12.1" fill="#fff" stroke="#505050" stroke-width="1.7"/>
<rect x="527.2" y="914.8" width="12.1" height="12.1" fill="#fff" stroke="#505050" stroke-width="1.7"/>
<rect x="553.2" y="922.6" width="12.1" height="12.1" fill="#fff" stroke="#505050" stroke-width="1.7"/>
<rect x="579.2" y="956.6" width="12.1" height="12.1" fill="#fff" stroke="#505050" stroke-width="1.7"/>
<rect x="616.5" y="950.6" width="12.1" height="12.1" fill="#fff" stroke="#505050" stroke-width="1.7"/>
<rect x="643.7" y="1098.0" width="12.1" height="12.1" fill="#fff" stroke="#505050" stroke-width="1.7"/>
<rect x="668.1" y="1001.8" width="12.1" height="12.1" fill="#fff" stroke="#505050" stroke-width="1.7"/>
<rect x="684.6" y="941.6" width="12.1" height="12.1" fill="#fff" stroke="#505050" stroke-width="1.7"/>
<rect x="710.5" y="985.3" width="12.1" height="12.1" fill="#fff" stroke="#505050" stroke-width="1.7"/>
<rect x="736.2" y="1015.8" width="12.1" height="12.1" fill="#fff" stroke="#505050" stroke-width="1.7"/>
<rect x="762.8" y="1120.4" width="12.1" height="12.1" fill="#fff" stroke="#505050" stroke-width="1.7"/>
<rect x="788.5" y="1146.2" width="12.1" height="12.1" fill="#fff" stroke="#505050" stroke-width="1.7"/>
<rect x="814.5" y="1129.4" width="12.1" height="12.1" fill="#fff" stroke="#505050" stroke-width="1.7"/>
<rect x="858.1" y="1217.1" width="12.1" height="12.1" fill="#fff" stroke="#505050" stroke-width="1.7"/>
<rect x="896.0" y="1414.0" width="12.1" height="12.1" fill="#fff" stroke="#505050" stroke-width="1.7"/>
<rect x="925.4" y="1230.0" width="12.1" height="12.1" fill="#fff" stroke="#505050" stroke-width="1.7"/>
<rect x="959.5" y="1368.9" width="12.1" height="12.1" fill="#fff" stroke="#505050" stroke-width="1.7"/>
<rect x="984.9" y="1390.3" width="12.1" height="12.1" fill="#fff" stroke="#505050" stroke-width="1.7"/>
<path d="M175.7,1455.1 L272.2,1346.3 L297.3,1281.0 L323.8,1327.0 L350.0,1274.4 L376.2,1244.6 L409.0,1172.7 L433.0,1129.7 L458.6,1146.3 L482.0,1188.7 L507.0,1135.9 L533.3,1106.4 L559.3,1085.9 L585.2,1129.7 L622.5,1114.0 L649.7,1156.7 L674.1,1142.6 L690.6,1094.7 L716.5,1127.0 L742.2,1139.8 L768.8,1165.2 L794.5,1207.1 L820.5,1207.1 L864.1,1248.0 L902.0,1276.9 L931.4,1260.8 L965.5,1292.1 L990.9,1332.0" fill="none" stroke="#626262" stroke-width="1.9" stroke-linejoin="round"/>
<rect x="168.9" y="1448.3" width="13.6" height="13.6" fill="#1c1816"/>
<rect x="265.4" y="1339.5" width="13.6" height="13.6" fill="#1c1816"/>
<rect x="290.5" y="1274.2" width="13.6" height="13.6" fill="#1c1816"/>
<rect x="317.0" y="1320.2" width="13.6" height="13.6" fill="#1c1816"/>
<rect x="343.2" y="1267.6" width="13.6" height="13.6" fill="#1c1816"/>
<rect x="369.4" y="1237.8" width="13.6" height="13.6" fill="#1c1816"/>
<rect x="402.2" y="1165.9" width="13.6" height="13.6" fill="#1c1816"/>
<rect x="426.2" y="1122.9" width="13.6" height="13.6" fill="#1c1816"/>
<rect x="451.8" y="1139.5" width="13.6" height="13.6" fill="#1c1816"/>
<rect x="475.2" y="1181.9" width="13.6" height="13.6" fill="#1c1816"/>
<rect x="500.2" y="1129.1" width="13.6" height="13.6" fill="#1c1816"/>
<rect x="526.5" y="1099.6" width="13.6" height="13.6" fill="#1c1816"/>
<rect x="552.5" y="1079.1" width="13.6" height="13.6" fill="#1c1816"/>
<rect x="578.4" y="1122.9" width="13.6" height="13.6" fill="#1c1816"/>
<rect x="615.7" y="1107.2" width="13.6" height="13.6" fill="#1c1816"/>
<rect x="642.9" y="1149.9" width="13.6" height="13.6" fill="#1c1816"/>
<rect x="667.3" y="1135.8" width="13.6" height="13.6" fill="#1c1816"/>
<rect x="683.8" y="1087.9" width="13.6" height="13.6" fill="#1c1816"/>
<rect x="709.7" y="1120.2" width="13.6" height="13.6" fill="#1c1816"/>
<rect x="735.4" y="1133.0" width="13.6" height="13.6" fill="#1c1816"/>
<rect x="762.0" y="1158.4" width="13.6" height="13.6" fill="#1c1816"/>
<rect x="787.7" y="1200.3" width="13.6" height="13.6" fill="#1c1816"/>
<rect x="813.7" y="1200.3" width="13.6" height="13.6" fill="#1c1816"/>
<rect x="857.3" y="1241.2" width="13.6" height="13.6" fill="#1c1816"/>
<rect x="895.2" y="1270.1" width="13.6" height="13.6" fill="#1c1816"/>
<rect x="924.6" y="1254.0" width="13.6" height="13.6" fill="#1c1816"/>
<rect x="958.7" y="1285.3" width="13.6" height="13.6" fill="#1c1816"/>
<rect x="984.1" y="1325.2" width="13.6" height="13.6" fill="#1c1816"/>
<path d="M175.7,1463.9 L272.2,1429.5 L297.3,1404.2 L323.8,1426.3 L350.0,1417.4 L376.2,1410.8 L409.0,1400.8 L433.0,1398.6 L458.6,1399.7 L482.0,1405.6 L507.0,1394.3 L533.3,1391.0 L559.3,1390.6 L585.2,1403.7 L622.5,1400.8 L649.7,1418.6 L674.1,1419.4 L690.6,1394.3 L716.5,1411.5 L742.2,1419.9 L768.8,1421.6 L794.5,1430.9 L820.5,1439.4 L864.1,1438.4 L902.0,1444.7 L931.4,1443.7 L965.5,1446.9 L990.9,1445.8" fill="none" stroke="#626262" stroke-width="1.9" stroke-linejoin="round"/>
<circle cx="175.7" cy="1463.9" r="7.4" fill="#1c1816"/>
<circle cx="272.2" cy="1429.5" r="7.4" fill="#1c1816"/>
<circle cx="297.3" cy="1404.2" r="7.4" fill="#1c1816"/>
<circle cx="323.8" cy="1426.3" r="7.4" fill="#1c1816"/>
<circle cx="350.0" cy="1417.4" r="7.4" fill="#1c1816"/>
<circle cx="376.2" cy="1410.8" r="7.4" fill="#1c1816"/>
<circle cx="409.0" cy="1400.8" r="7.4" fill="#1c1816"/>
<circle cx="433.0" cy="1398.6" r="7.4" fill="#1c1816"/>
<circle cx="458.6" cy="1399.7" r="7.4" fill="#1c1816"/>
<circle cx="482.0" cy="1405.6" r="7.4" fill="#1c1816"/>
<circle cx="507.0" cy="1394.3" r="7.4" fill="#1c1816"/>
<circle cx="533.3" cy="1391.0" r="7.4" fill="#1c1816"/>
<circle cx="559.3" cy="1390.6" r="7.4" fill="#1c1816"/>
<circle cx="585.2" cy="1403.7" r="7.4" fill="#1c1816"/>
<circle cx="622.5" cy="1400.8" r="7.4" fill="#1c1816"/>
<circle cx="649.7" cy="1418.6" r="7.4" fill="#1c1816"/>
<circle cx="674.1" cy="1419.4" r="7.4" fill="#1c1816"/>
<circle cx="690.6" cy="1394.3" r="7.4" fill="#1c1816"/>
<circle cx="716.5" cy="1411.5" r="7.4" fill="#1c1816"/>
<circle cx="742.2" cy="1419.9" r="7.4" fill="#1c1816"/>
<circle cx="768.8" cy="1421.6" r="7.4" fill="#1c1816"/>
<circle cx="794.5" cy="1430.9" r="7.4" fill="#1c1816"/>
<circle cx="820.5" cy="1439.4" r="7.4" fill="#1c1816"/>
<circle cx="864.1" cy="1438.4" r="7.4" fill="#1c1816"/>
<circle cx="902.0" cy="1444.7" r="7.4" fill="#1c1816"/>
<circle cx="931.4" cy="1443.7" r="7.4" fill="#1c1816"/>
<circle cx="965.5" cy="1446.9" r="7.4" fill="#1c1816"/>
<circle cx="990.9" cy="1445.8" r="7.4" fill="#1c1816"/>
<path d="M175.7,1463.9 L272.2,1463.9 L297.3,1463.9 L323.8,1463.9 L350.0,1463.9 L376.2,1463.9 L409.0,1413.0 L433.0,1429.2 L458.6,1411.5 L482.0,1426.4 L507.0,1415.8 L533.3,1410.1 L559.3,1427.6 L585.2,1440.4 L622.5,1431.9 L649.7,1452.2 L674.1,1441.5 L690.6,1451.2 L716.5,1454.5 L742.2,1463.9 L768.8,1463.9 L794.5,1463.9 L820.5,1463.9 L864.1,1463.9 L902.0,1463.9 L931.4,1463.9 L965.5,1463.9 L990.9,1463.9" fill="none" stroke="#ec5a4e" stroke-width="1.9" stroke-linejoin="round"/>
<circle cx="175.7" cy="1463.9" r="7.4" fill="#e2261c"/>
<circle cx="272.2" cy="1463.9" r="7.4" fill="#e2261c"/>
<circle cx="297.3" cy="1463.9" r="7.4" fill="#e2261c"/>
<circle cx="323.8" cy="1463.9" r="7.4" fill="#e2261c"/>
<circle cx="350.0" cy="1463.9" r="7.4" fill="#e2261c"/>
<circle cx="376.2" cy="1463.9" r="7.4" fill="#e2261c"/>
<circle cx="409.0" cy="1413.0" r="7.4" fill="#e2261c"/>
<circle cx="433.0" cy="1429.2" r="7.4" fill="#e2261c"/>
<circle cx="458.6" cy="1411.5" r="7.4" fill="#e2261c"/>
<circle cx="482.0" cy="1426.4" r="7.4" fill="#e2261c"/>
<circle cx="507.0" cy="1415.8" r="7.4" fill="#e2261c"/>
<circle cx="533.3" cy="1410.1" r="7.4" fill="#e2261c"/>
<circle cx="559.3" cy="1427.6" r="7.4" fill="#e2261c"/>
<circle cx="585.2" cy="1440.4" r="7.4" fill="#e2261c"/>
<circle cx="622.5" cy="1431.9" r="7.4" fill="#e2261c"/>
<circle cx="649.7" cy="1452.2" r="7.4" fill="#e2261c"/>
<circle cx="674.1" cy="1441.5" r="7.4" fill="#e2261c"/>
<circle cx="690.6" cy="1451.2" r="7.4" fill="#e2261c"/>
<circle cx="716.5" cy="1454.5" r="7.4" fill="#e2261c"/>
<circle cx="742.2" cy="1463.9" r="7.4" fill="#e2261c"/>
<circle cx="768.8" cy="1463.9" r="7.4" fill="#e2261c"/>
<circle cx="794.5" cy="1463.9" r="7.4" fill="#e2261c"/>
<circle cx="820.5" cy="1463.9" r="7.4" fill="#e2261c"/>
<circle cx="864.1" cy="1463.9" r="7.4" fill="#e2261c"/>
<circle cx="902.0" cy="1463.9" r="7.4" fill="#e2261c"/>
<circle cx="931.4" cy="1463.9" r="7.4" fill="#e2261c"/>
<circle cx="965.5" cy="1463.9" r="7.4" fill="#e2261c"/>
<circle cx="990.9" cy="1463.9" r="7.4" fill="#e2261c"/>
<path d="M175.7,1463.9 L272.2,1463.9 L297.3,1463.9 L323.8,1463.9 L350.0,1463.9 L376.2,1463.9 L409.0,1340.6 L433.0,1396.3 L458.6,1287.9 L482.0,1271.9 L507.0,1218.9 L533.3,1217.9 L559.3,1219.1 L585.2,1242.7 L622.5,1281.7 L649.7,1314.9 L674.1,1324.4 L690.6,1323.3 L716.5,1347.7 L742.2,1377.8 L768.8,1399.1 L794.5,1420.7 L820.5,1435.1 L864.1,1448.0 L902.0,1455.5 L931.4,1450.0 L965.5,1454.5 L990.9,1463.9" fill="none" stroke="#ec5a4e" stroke-width="1.9" stroke-linejoin="round"/>
<rect x="169.6" y="1457.9" width="12.1" height="12.1" fill="#fff" stroke="#ec5a4e" stroke-width="1.7"/>
<rect x="266.1" y="1457.9" width="12.1" height="12.1" fill="#fff" stroke="#ec5a4e" stroke-width="1.7"/>
<rect x="291.2" y="1457.9" width="12.1" height="12.1" fill="#fff" stroke="#ec5a4e" stroke-width="1.7"/>
<rect x="317.8" y="1457.9" width="12.1" height="12.1" fill="#fff" stroke="#ec5a4e" stroke-width="1.7"/>
<rect x="343.9" y="1457.9" width="12.1" height="12.1" fill="#fff" stroke="#ec5a4e" stroke-width="1.7"/>
<rect x="370.1" y="1457.9" width="12.1" height="12.1" fill="#fff" stroke="#ec5a4e" stroke-width="1.7"/>
<rect x="402.9" y="1334.5" width="12.1" height="12.1" fill="#fff" stroke="#ec5a4e" stroke-width="1.7"/>
<rect x="426.9" y="1390.3" width="12.1" height="12.1" fill="#fff" stroke="#ec5a4e" stroke-width="1.7"/>
<rect x="452.6" y="1281.9" width="12.1" height="12.1" fill="#fff" stroke="#ec5a4e" stroke-width="1.7"/>
<rect x="475.9" y="1265.8" width="12.1" height="12.1" fill="#fff" stroke="#ec5a4e" stroke-width="1.7"/>
<rect x="500.9" y="1212.9" width="12.1" height="12.1" fill="#fff" stroke="#ec5a4e" stroke-width="1.7"/>
<rect x="527.2" y="1211.8" width="12.1" height="12.1" fill="#fff" stroke="#ec5a4e" stroke-width="1.7"/>
<rect x="553.2" y="1213.0" width="12.1" height="12.1" fill="#fff" stroke="#ec5a4e" stroke-width="1.7"/>
<rect x="579.2" y="1236.6" width="12.1" height="12.1" fill="#fff" stroke="#ec5a4e" stroke-width="1.7"/>
<rect x="616.5" y="1275.7" width="12.1" height="12.1" fill="#fff" stroke="#ec5a4e" stroke-width="1.7"/>
<rect x="643.7" y="1308.9" width="12.1" height="12.1" fill="#fff" stroke="#ec5a4e" stroke-width="1.7"/>
<rect x="668.1" y="1318.3" width="12.1" height="12.1" fill="#fff" stroke="#ec5a4e" stroke-width="1.7"/>
<rect x="684.6" y="1317.3" width="12.1" height="12.1" fill="#fff" stroke="#ec5a4e" stroke-width="1.7"/>
<rect x="710.5" y="1341.6" width="12.1" height="12.1" fill="#fff" stroke="#ec5a4e" stroke-width="1.7"/>
<rect x="736.2" y="1371.7" width="12.1" height="12.1" fill="#fff" stroke="#ec5a4e" stroke-width="1.7"/>
<rect x="762.8" y="1393.1" width="12.1" height="12.1" fill="#fff" stroke="#ec5a4e" stroke-width="1.7"/>
<rect x="788.5" y="1414.6" width="12.1" height="12.1" fill="#fff" stroke="#ec5a4e" stroke-width="1.7"/>
<rect x="814.5" y="1429.1" width="12.1" height="12.1" fill="#fff" stroke="#ec5a4e" stroke-width="1.7"/>
<rect x="858.1" y="1441.9" width="12.1" height="12.1" fill="#fff" stroke="#ec5a4e" stroke-width="1.7"/>
<rect x="896.0" y="1449.4" width="12.1" height="12.1" fill="#fff" stroke="#ec5a4e" stroke-width="1.7"/>
<rect x="925.4" y="1444.0" width="12.1" height="12.1" fill="#fff" stroke="#ec5a4e" stroke-width="1.7"/>
<rect x="959.5" y="1448.4" width="12.1" height="12.1" fill="#fff" stroke="#ec5a4e" stroke-width="1.7"/>
<rect x="984.9" y="1457.9" width="12.1" height="12.1" fill="#fff" stroke="#ec5a4e" stroke-width="1.7"/>
<path d="M175.7,1463.9 L272.2,1383.7 L297.3,1345.9 L323.8,1389.0 L350.0,1377.2 L376.2,1347.1 L409.0,1310.5 L433.0,1316.3 L458.6,1306.8 L482.0,1286.9 L507.0,1200.3 L533.3,1244.1 L559.3,1237.2 L585.2,1235.9 L622.5,1264.0 L649.7,1325.8 L674.1,1292.5 L690.6,1308.3 L716.5,1315.4 L742.2,1325.5 L768.8,1305.5 L794.5,1329.2 L820.5,1382.9 L864.1,1356.2 L902.0,1352.4 L931.4,1376.0 L965.5,1345.9 L990.9,1369.6" fill="none" stroke="#3aa86a" stroke-width="1.9" stroke-linejoin="round"/>
<rect x="169.6" y="1457.9" width="12.1" height="12.1" fill="#fff" stroke="#3aa86a" stroke-width="1.7"/>
<rect x="266.1" y="1377.6" width="12.1" height="12.1" fill="#fff" stroke="#3aa86a" stroke-width="1.7"/>
<rect x="291.2" y="1339.9" width="12.1" height="12.1" fill="#fff" stroke="#3aa86a" stroke-width="1.7"/>
<rect x="317.8" y="1382.9" width="12.1" height="12.1" fill="#fff" stroke="#3aa86a" stroke-width="1.7"/>
<rect x="343.9" y="1371.1" width="12.1" height="12.1" fill="#fff" stroke="#3aa86a" stroke-width="1.7"/>
<rect x="370.1" y="1341.0" width="12.1" height="12.1" fill="#fff" stroke="#3aa86a" stroke-width="1.7"/>
<rect x="402.9" y="1304.5" width="12.1" height="12.1" fill="#fff" stroke="#3aa86a" stroke-width="1.7"/>
<rect x="426.9" y="1310.2" width="12.1" height="12.1" fill="#fff" stroke="#3aa86a" stroke-width="1.7"/>
<rect x="452.6" y="1300.8" width="12.1" height="12.1" fill="#fff" stroke="#3aa86a" stroke-width="1.7"/>
<rect x="475.9" y="1280.9" width="12.1" height="12.1" fill="#fff" stroke="#3aa86a" stroke-width="1.7"/>
<rect x="500.9" y="1194.3" width="12.1" height="12.1" fill="#fff" stroke="#3aa86a" stroke-width="1.7"/>
<rect x="527.2" y="1238.1" width="12.1" height="12.1" fill="#fff" stroke="#3aa86a" stroke-width="1.7"/>
<rect x="553.2" y="1231.1" width="12.1" height="12.1" fill="#fff" stroke="#3aa86a" stroke-width="1.7"/>
<rect x="579.2" y="1229.8" width="12.1" height="12.1" fill="#fff" stroke="#3aa86a" stroke-width="1.7"/>
<rect x="616.5" y="1258.0" width="12.1" height="12.1" fill="#fff" stroke="#3aa86a" stroke-width="1.7"/>
<rect x="643.7" y="1319.8" width="12.1" height="12.1" fill="#fff" stroke="#3aa86a" stroke-width="1.7"/>
<rect x="668.1" y="1286.5" width="12.1" height="12.1" fill="#fff" stroke="#3aa86a" stroke-width="1.7"/>
<rect x="684.6" y="1302.2" width="12.1" height="12.1" fill="#fff" stroke="#3aa86a" stroke-width="1.7"/>
<rect x="710.5" y="1309.3" width="12.1" height="12.1" fill="#fff" stroke="#3aa86a" stroke-width="1.7"/>
<rect x="736.2" y="1319.5" width="12.1" height="12.1" fill="#fff" stroke="#3aa86a" stroke-width="1.7"/>
<rect x="762.8" y="1299.4" width="12.1" height="12.1" fill="#fff" stroke="#3aa86a" stroke-width="1.7"/>
<rect x="788.5" y="1323.2" width="12.1" height="12.1" fill="#fff" stroke="#3aa86a" stroke-width="1.7"/>
<rect x="814.5" y="1376.9" width="12.1" height="12.1" fill="#fff" stroke="#3aa86a" stroke-width="1.7"/>
<rect x="858.1" y="1350.2" width="12.1" height="12.1" fill="#fff" stroke="#3aa86a" stroke-width="1.7"/>
<rect x="896.0" y="1346.3" width="12.1" height="12.1" fill="#fff" stroke="#3aa86a" stroke-width="1.7"/>
<rect x="925.4" y="1369.9" width="12.1" height="12.1" fill="#fff" stroke="#3aa86a" stroke-width="1.7"/>
<rect x="959.5" y="1339.9" width="12.1" height="12.1" fill="#fff" stroke="#3aa86a" stroke-width="1.7"/>
<rect x="984.9" y="1363.6" width="12.1" height="12.1" fill="#fff" stroke="#3aa86a" stroke-width="1.7"/>
<path d="M175.7,1463.9 L272.2,1332.8 L297.3,1244.1 L323.8,1316.5 L350.0,1287.5 L376.2,1258.6 L409.0,1234.8 L433.0,1200.2 L458.6,1234.4 L482.0,1213.2 L507.0,1180.3 L533.3,1204.6 L559.3,1216.4 L585.2,1222.4 L649.7,1295.8 L674.1,1246.3 L690.6,1242.9 L716.5,1244.3 L742.2,1253.3 L768.8,1251.6 L794.5,1261.8 L820.5,1290.4 L864.1,1300.8 L902.0,1071.6 L931.4,1298.7 L965.5,1229.7 L990.9,1263.0" fill="none" stroke="#3aa86a" stroke-width="1.9" stroke-linejoin="round"/>
<circle cx="175.7" cy="1463.9" r="7.4" fill="#00953f"/>
<circle cx="272.2" cy="1332.8" r="7.4" fill="#00953f"/>
<circle cx="297.3" cy="1244.1" r="7.4" fill="#00953f"/>
<circle cx="323.8" cy="1316.5" r="7.4" fill="#00953f"/>
<circle cx="350.0" cy="1287.5" r="7.4" fill="#00953f"/>
<circle cx="376.2" cy="1258.6" r="7.4" fill="#00953f"/>
<circle cx="409.0" cy="1234.8" r="7.4" fill="#00953f"/>
<circle cx="433.0" cy="1200.2" r="7.4" fill="#00953f"/>
<circle cx="458.6" cy="1234.4" r="7.4" fill="#00953f"/>
<circle cx="482.0" cy="1213.2" r="7.4" fill="#00953f"/>
<circle cx="507.0" cy="1180.3" r="7.4" fill="#00953f"/>
<circle cx="533.3" cy="1204.6" r="7.4" fill="#00953f"/>
<circle cx="559.3" cy="1216.4" r="7.4" fill="#00953f"/>
<circle cx="585.2" cy="1222.4" r="7.4" fill="#00953f"/>
<circle cx="649.7" cy="1295.8" r="7.4" fill="#00953f"/>
<circle cx="674.1" cy="1246.3" r="7.4" fill="#00953f"/>
<circle cx="690.6" cy="1242.9" r="7.4" fill="#00953f"/>
<circle cx="716.5" cy="1244.3" r="7.4" fill="#00953f"/>
<circle cx="742.2" cy="1253.3" r="7.4" fill="#00953f"/>
<circle cx="768.8" cy="1251.6" r="7.4" fill="#00953f"/>
<circle cx="794.5" cy="1261.8" r="7.4" fill="#00953f"/>
<circle cx="820.5" cy="1290.4" r="7.4" fill="#00953f"/>
<circle cx="864.1" cy="1300.8" r="7.4" fill="#00953f"/>
<circle cx="902.0" cy="1071.6" r="7.4" fill="#00953f"/>
<circle cx="931.4" cy="1298.7" r="7.4" fill="#00953f"/>
<circle cx="965.5" cy="1229.7" r="7.4" fill="#00953f"/>
<circle cx="990.9" cy="1263.0" r="7.4" fill="#00953f"/>
<path d="M175.7,1463.9 L272.2,1334.1 L297.3,1326.0 L323.8,1418.8 L350.0,1428.8 L376.2,1325.5 L409.0,1310.5 L433.0,1312.6 L458.6,1355.6 L482.0,1269.6 L507.0,1293.2 L533.3,1338.4 L559.3,1341.6 L585.2,1396.3 L622.5,1397.5 L649.7,1407.3 L674.1,1378.2 L690.6,1463.9 L716.5,1463.9 L742.2,1463.9 L768.8,1463.9 L794.5,1463.9 L820.5,1463.9 L864.1,1463.9 L902.0,1463.9 L931.4,1463.9 L965.5,1463.9 L990.9,1463.9" fill="none" stroke="#3aa86a" stroke-width="1.9" stroke-linejoin="round"/>
<path d="M168.8,1459.3 L182.6,1459.3 L176.7,1473.1 L174.7,1473.1 Z" fill="#00953f"/>
<path d="M265.3,1329.5 L279.1,1329.5 L273.2,1343.3 L271.2,1343.3 Z" fill="#00953f"/>
<path d="M290.4,1321.4 L304.2,1321.4 L298.3,1335.2 L296.3,1335.2 Z" fill="#00953f"/>
<path d="M316.9,1414.1 L330.7,1414.1 L324.8,1428.0 L322.8,1428.0 Z" fill="#00953f"/>
<path d="M343.1,1424.2 L356.9,1424.2 L351.0,1438.0 L349.0,1438.0 Z" fill="#00953f"/>
<path d="M369.3,1320.9 L383.1,1320.9 L377.2,1334.8 L375.2,1334.8 Z" fill="#00953f"/>
<path d="M402.1,1305.9 L415.9,1305.9 L410.0,1319.7 L408.0,1319.7 Z" fill="#00953f"/>
<path d="M426.1,1307.9 L439.9,1307.9 L434.0,1321.8 L432.0,1321.8 Z" fill="#00953f"/>
<path d="M451.7,1351.0 L465.5,1351.0 L459.6,1364.9 L457.6,1364.9 Z" fill="#00953f"/>
<path d="M475.1,1265.0 L488.9,1265.0 L483.0,1278.9 L481.0,1278.9 Z" fill="#00953f"/>
<path d="M500.1,1288.6 L513.9,1288.6 L508.0,1302.5 L506.0,1302.5 Z" fill="#00953f"/>
<path d="M526.4,1333.8 L540.2,1333.8 L534.3,1347.6 L532.3,1347.6 Z" fill="#00953f"/>
<path d="M552.4,1337.0 L566.2,1337.0 L560.3,1350.9 L558.3,1350.9 Z" fill="#00953f"/>
<path d="M578.3,1391.7 L592.1,1391.7 L586.2,1405.6 L584.2,1405.6 Z" fill="#00953f"/>
<path d="M615.6,1392.9 L629.4,1392.9 L623.5,1406.8 L621.5,1406.8 Z" fill="#00953f"/>
<path d="M642.8,1402.6 L656.6,1402.6 L650.7,1416.5 L648.7,1416.5 Z" fill="#00953f"/>
<path d="M667.2,1373.6 L681.0,1373.6 L675.1,1387.5 L673.1,1387.5 Z" fill="#00953f"/>
<path d="M683.7,1459.3 L697.5,1459.3 L691.6,1473.1 L689.6,1473.1 Z" fill="#00953f"/>
<path d="M709.6,1459.3 L723.4,1459.3 L717.5,1473.1 L715.5,1473.1 Z" fill="#00953f"/>
<path d="M735.3,1459.3 L749.1,1459.3 L743.2,1473.1 L741.2,1473.1 Z" fill="#00953f"/>
<path d="M761.9,1459.3 L775.7,1459.3 L769.8,1473.1 L767.8,1473.1 Z" fill="#00953f"/>
<path d="M787.6,1459.3 L801.4,1459.3 L795.5,1473.1 L793.5,1473.1 Z" fill="#00953f"/>
<path d="M813.6,1459.3 L827.4,1459.3 L821.5,1473.1 L819.5,1473.1 Z" fill="#00953f"/>
<path d="M857.2,1459.3 L871.0,1459.3 L865.1,1473.1 L863.1,1473.1 Z" fill="#00953f"/>
<path d="M895.1,1459.3 L908.9,1459.3 L903.0,1473.1 L901.0,1473.1 Z" fill="#00953f"/>
<path d="M924.5,1459.3 L938.3,1459.3 L932.4,1473.1 L930.4,1473.1 Z" fill="#00953f"/>
<path d="M958.6,1459.3 L972.4,1459.3 L966.5,1473.1 L964.5,1473.1 Z" fill="#00953f"/>
<path d="M984.0,1459.3 L997.8,1459.3 L991.9,1473.1 L989.9,1473.1 Z" fill="#00953f"/>
<line x1="609.8" y1="878.4" x2="576.6" y2="911.7" stroke="#1e1a18" stroke-width="2.4"/><path d="M566.7,921.6 L571.6,903.9 L584.4,916.6 Z" fill="#1e1a18"/>
<line x1="743.6" y1="953" x2="528.4" y2="1165.4" stroke="#33956a" stroke-width="2.2"/><path d="M519.1,1174.5 L523.5,1157.6 L536.1,1170.4 Z" fill="#33956a"/>
<line x1="877.7" y1="1064.2" x2="727.2" y2="1325.7" stroke="#e3195a" stroke-width="2.8"/><path d="M720.2,1337.8 L720.8,1319.7 L735.5,1328.2 Z" fill="#e3195a"/>
</svg>
</body></html>
